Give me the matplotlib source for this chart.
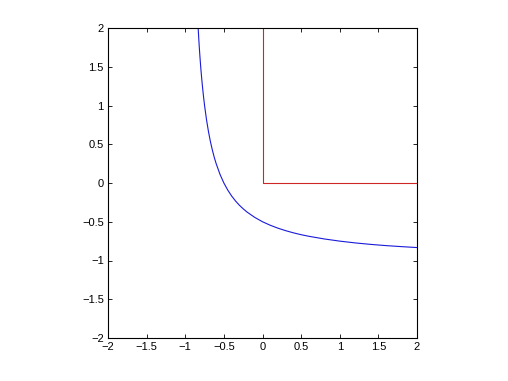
import matplotlib
matplotlib.use("Agg")
import matplotlib.pyplot as plt

# Blue curve, values
curve_x = [-0.833, -0.82, -0.81, -0.8, -0.79, -0.78, -0.765, -0.75, -0.725, -0.7,
           -0.675, -0.65, -0.625, -0.6, -0.55, -0.5, -0.45, -0.4, -0.35, -0.3,
           -0.25, -0.2, -0.1, 0.0, 0.1, 0.2, 0.3, 0.4, 0.5, 0.6, 0.8, 1.0,
           1.2, 1.4, 1.6, 1.8, 2.0]
curve_y = [2.0, 1.778, 1.632, 1.5, 1.381, 1.273, 1.128, 1.0, 0.818, 0.667,
           0.538, 0.429, 0.333, 0.25, 0.111, 0.0, -0.091, -0.167, -0.231, -0.286,
           -0.333, -0.375, -0.444, -0.5, -0.545, -0.583, -0.615, -0.643, -0.667, -0.6875, -0.722, -0.75,
           -0.773, -0.792, -0.808, -0.821, -0.833]

# Red corner line
corner_x = [0, 0, 2]
corner_y = [2, 0, 0]

ticks = [-2, -1.5, -1, -0.5, 0, 0.5, 1, 1.5, 2]
tick_labels = ["\u22122", "\u22121.5", "\u22121", "\u22120.5", "0", "0.5", "1", "1.5", "2"]

plt.rcParams['font.family'] = ['Liberation Sans', 'DejaVu Sans']
fig = plt.figure(figsize=(5.08, 3.81), dpi=100)
ax = fig.add_axes([108/508, 43/381, 309/508, 310/381])
ax.plot(curve_x, curve_y, color=(0.1, 0.1, 0.85), lw=0.8)
ax.plot(corner_x, corner_y, color=(0.8, 0.15, 0.15), lw=0.8)
ax.set_xlim(-2, 2)
ax.set_ylim(-2, 2)
ax.set_xticks(ticks)
ax.set_yticks(ticks)
ax.set_xticklabels(tick_labels)
ax.set_yticklabels(tick_labels)
ax.tick_params(direction='in', top=True, right=True, length=3, width=0.6,
               labelsize=8, pad=3)
for s in ax.spines.values():
    s.set_linewidth(0.8)
fig.savefig("out.png", dpi=100)
